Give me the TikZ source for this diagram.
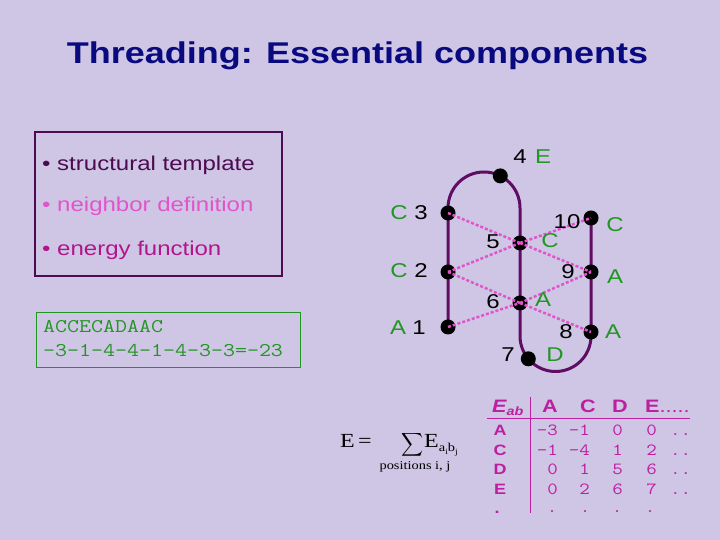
\documentclass[tikz,border=0pt]{standalone}
\usepackage{fontspec}
\usepackage{graphicx}
\newfontfamily\slidesans[FakeStretch=1.2]{Liberation Sans}
\newfontfamily\slidemono[FakeStretch=1.2]{Latin Modern Mono}
\newfontfamily\slideserif[FakeStretch=1.2]{Liberation Serif}
\usetikzlibrary{backgrounds}
\definecolor{slidebg}{RGB}{206,198,228}
\definecolor{titlenavy}{RGB}{10,10,128}
\definecolor{chainpurple}{RGB}{96,12,100}
\definecolor{contactpink}{RGB}{226,84,204}
\definecolor{resgreen}{RGB}{34,150,34}
\definecolor{darkplum}{RGB}{76,10,80}
\definecolor{energymag}{RGB}{178,20,140}
\definecolor{tablemag}{RGB}{190,30,160}

\begin{document}
\begin{tikzpicture}[x=1pt, y=1pt,
  dot/.style={circle, fill=black, inner sep=0pt, minimum size=15pt},
  backbone/.style={line width=3pt, chainpurple},
  contact/.style={line width=2.5pt, contactpink, dash pattern=on 3pt off 2pt},
  numlab/.style={font=\slidesans\fontsize{20}{24}\selectfont, text=black, inner sep=0pt},
  reslab/.style={numlab, text=resgreen},
  itemtxt/.style={font=\slidesans\fontsize{20}{24}\selectfont, inner sep=0pt, anchor=base west},
  seqtxt/.style={font=\slidemono\fontsize{19.4}{22}\selectfont, text=resgreen, inner sep=0pt, anchor=base west},
  tabhead/.style={font=\slidesans\bfseries\fontsize{18}{20}\selectfont, text=tablemag, inner sep=0pt, anchor=base},
  tabrow/.style={font=\slidesans\bfseries\fontsize{15}{17}\selectfont, text=tablemag, inner sep=0pt},
  tabval/.style={font=\slidemono\fontsize{17}{20}\selectfont, text=tablemag, inner sep=0pt, anchor=east},
  eqtxt/.style={font=\slideserif\fontsize{20}{24}\selectfont, inner sep=0pt, anchor=base west}
]
\useasboundingbox (0,0) rectangle (720,540);

% Title
\node[font=\slidesans\bfseries\fontsize{30}{36}\selectfont, text=titlenavy, anchor=base, inner sep=0pt]
  (title) at (357.5,476.7) {Threading: Essential components};

% Components box
\node[draw=darkplum, line width=2pt, minimum width=247pt, minimum height=144pt, inner sep=0pt] (compbox) at (158.5,336) {};
\node[itemtxt, text=darkplum] (item1) at (42,369) {• structural template};
\node[itemtxt, text=contactpink] (item2) at (42,328) {• neighbor definition};
\node[itemtxt, text=energymag] (item3) at (42,284.3) {• energy function};

% Sequence box
\node[draw=resgreen, line width=1pt, minimum width=264pt, minimum height=55pt, inner sep=0pt] (seqbox) at (168,199.5) {};
\node[seqtxt] (seq) at (43,207) {ACCECADAAC};
\node[seqtxt] (seqsum) at (43,183) {-3-1-4-4-1-4-3-3=-23};

% Chain residues
\coordinate (topc) at (484,332);
\coordinate (botc) at (555.5,204);
\node[dot] (r1) at (448,213) {};
\node[dot] (r2) at (448,268) {};
\node[dot] (r3) at (448,327) {};
\node[dot] (r4) at (500.3,364.1) {};
\node[dot] (r5) at (520,297) {};
\node[dot] (r6) at (520,237) {};
\node[dot] (r7) at (528.3,181.2) {};
\node[dot] (r8) at (591,208) {};
\node[dot] (r9) at (591,268) {};
\node[dot] (r10) at (591,322) {};

\begin{scope}[on background layer]
  \fill[slidebg] (0,0) rectangle (720,540);
  \draw[backbone] (r1.center) -- (r1.center |- topc) arc[start angle=180, end angle=0, radius=36pt]
    -- (r6.center) -- (r6.center |- botc) arc[start angle=180, end angle=360, radius=35.5pt] -- (r10.center);
\end{scope}

% Neighbor contacts
\foreach \a/\b in {3/5,5/9,2/5,5/10,2/6,6/8,1/6,6/9}
  \draw[contact] (r\a.center) -- (r\b.center);

% Residue labels
\node[reslab] (aa1) at (398,212) {A};   \node[numlab] (num1) at (419,212) {1};
\node[reslab] (aa2) at (399,269) {C};   \node[numlab] (num2) at (421,269) {2};
\node[reslab] (aa3) at (399,327) {C};   \node[numlab] (num3) at (421,327) {3};
\node[numlab] (num4) at (520,383) {4};  \node[reslab] (aa4) at (543,383) {E};
\node[numlab] (num5) at (493,298) {5};  \node[reslab] (aa5) at (550,299) {C};
\node[numlab] (num6) at (493,238) {6};  \node[reslab] (aa6) at (543,240) {A};
\node[numlab] (num7) at (508,185) {7};  \node[reslab] (aa7) at (555,185) {D};
\node[numlab] (num8) at (566,208) {8};  \node[reslab] (aa8) at (613,208) {A};
\node[numlab] (num9) at (568,268) {9};  \node[reslab] (aa9) at (615,263) {A};
\node[numlab] (num10) at (567,318) {10}; \node[reslab] (aa10) at (615,315) {C};

% Energy formula
\node[eqtxt] (eqlhs) at (340,92) {E\,=};
\node[inner sep=0pt] (eqsum) at (412.5,95.5) {\resizebox*{22pt}{26pt}{$\displaystyle\sum$}};
\node[eqtxt] (eqterm) at (424,92) {E\raisebox{-4pt}{\fontsize{12}{12}\selectfont a\raisebox{-2.5pt}{\fontsize{8}{8}\selectfont i}b\raisebox{-2.5pt}{\fontsize{8}{8}\selectfont j}}};
\node[eqtxt, font=\slideserif\fontsize{12}{14}\selectfont, anchor=base] (eqidx) at (415,70) {positions i, j};

% Pair energy table
\draw[tablemag, line width=1pt] (487,121) -- (690,121);
\draw[tablemag, line width=1pt] (530,143) -- (530,27);
\node[tabhead, anchor=base west] (hab) at (492,127) {\itshape E\raisebox{-2.5pt}{\fontsize{12}{12}\selectfont ab}};
\node[tabhead] (hA) at (550,127) {A};
\node[tabhead] (hC) at (588,127) {C};
\node[tabhead] (hD) at (620,127) {D};
\node[tabhead, anchor=base west] (hE) at (645,127) {E{\mdseries .....}};

\node[tabrow] (rowA) at (500,109.5) {A};
\node[tabrow] (rowC) at (500,90) {C};
\node[tabrow] (rowD) at (500,70.5) {D};
\node[tabrow] (rowE) at (500,51) {E};
\node[tabrow] (rowX) at (497,28) {.};

\node[tabval] at (558,109.5) {-3}; \node[tabval] at (590,109.5) {-1};
\node[tabval] at (623,109.5) {0};  \node[tabval] at (657,109.5) {0};
\node[tabval, anchor=base west] at (670,104) {..};
\node[tabval] at (558,90) {-1}; \node[tabval] at (590,90) {-4};
\node[tabval] at (623,90) {1};  \node[tabval] at (657,90) {2};
\node[tabval, anchor=base west] at (670,84.5) {..};
\node[tabval] at (558,70.5) {0}; \node[tabval] at (590,70.5) {1};
\node[tabval] at (623,70.5) {5}; \node[tabval] at (657,70.5) {6};
\node[tabval, anchor=base west] at (670,65) {..};
\node[tabval] at (558,51) {0}; \node[tabval] at (590,51) {2};
\node[tabval] at (623,51) {6}; \node[tabval] at (657,51) {7};
\node[tabval, anchor=base west] at (670,45.5) {..};
\node[tabval, anchor=center] at (552,28) {.}; \node[tabval, anchor=center] at (585,28) {.};
\node[tabval, anchor=center] at (617,28) {.}; \node[tabval, anchor=center] at (650,28) {.};
\end{tikzpicture}
\end{document}
